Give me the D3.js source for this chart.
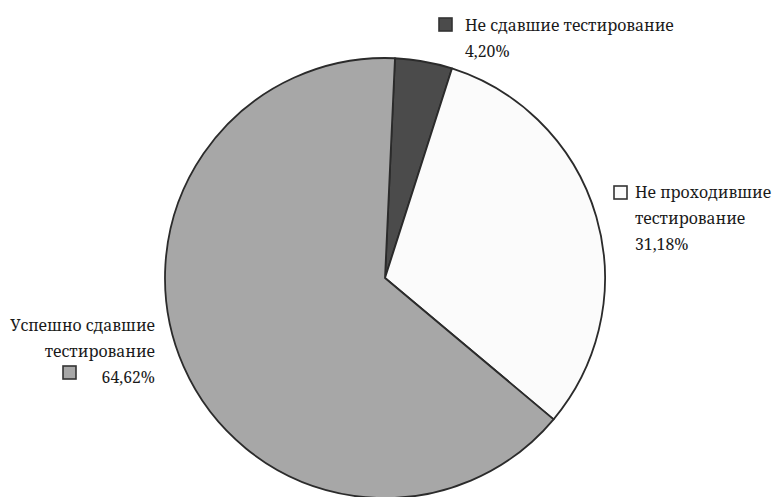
<!DOCTYPE html>
<html>
<head>
<meta charset="utf-8">
<script src="https://cdn.jsdelivr.net/npm/d3@7"></script>
<style>
  html, body { margin: 0; padding: 0; background: #ffffff; }
  svg { display: block; }
  text { font-family: "Noto Serif", "DejaVu Serif", serif; fill: #1a1a1a; }
</style>
</head>
<body>
<svg id="chart" width="775" height="497"></svg>
<script>
// Test outcome shares
const categories = ["Не сдавшие тестирование", "Не проходившие тестирование", "Успешно сдавшие тестирование"];
const values = [4.20, 31.18, 64.62];
const valueLabels = ["4,20%", "31,18%", "64,62%"];
const fills = ["#4b4b4b", "#fbfbfb", "#a7a7a7"];

// Category names as they wrap next to each slice
const nameLines = [
  ["Не сдавшие тестирование"],
  ["Не проходившие", "тестирование"],
  ["Успешно сдавшие", "тестирование"]
];

const width = 775, height = 497;
const cx = 385, cy = 278, radius = 220;
const startDeg = 2.6;

const svg = d3.select("#chart");
const g = svg.append("g").attr("transform", `translate(${cx},${cy})`);

const pie = d3.pie()
  .sort(null)
  .value(d => d)
  .startAngle(startDeg * Math.PI / 180)
  .endAngle(startDeg * Math.PI / 180 + 2 * Math.PI);

const arc = d3.arc().innerRadius(0).outerRadius(radius);

g.selectAll("path.slice")
  .data(pie(values))
  .join("path")
  .attr("class", "slice")
  .attr("d", arc)
  .attr("fill", (d, i) => fills[i])
  .attr("stroke", "#2b2b2b")
  .attr("stroke-width", 1.8)
  .attr("stroke-linejoin", "round");

// Label blocks: swatch + name lines + value
const fontSize = 15.8;
const lineGap = 26;
const blocks = [
  { x: 465, y: 31, anchor: "start", sw: { x: 439, y: 18 } },
  { x: 635, y: 198, anchor: "start", sw: { x: 614, y: 186 } },
  { x: 155, y: 331, anchor: "end", sw: { x: 63, y: 366 } }
];

blocks.forEach((b, i) => {
  const lines = nameLines[i].concat([valueLabels[i]]);
  const t = svg.append("text")
    .attr("font-size", fontSize)
    .attr("text-anchor", b.anchor);
  lines.forEach((ln, j) => {
    t.append("tspan")
      .attr("x", b.x)
      .attr("y", b.y + j * lineGap)
      .text(ln);
  });
  svg.append("rect")
    .attr("x", b.sw.x)
    .attr("y", b.sw.y)
    .attr("width", 13)
    .attr("height", 13)
    .attr("fill", fills[i])
    .attr("stroke", "#333333")
    .attr("stroke-width", 1.6);
});
</script>
</body>
</html>
